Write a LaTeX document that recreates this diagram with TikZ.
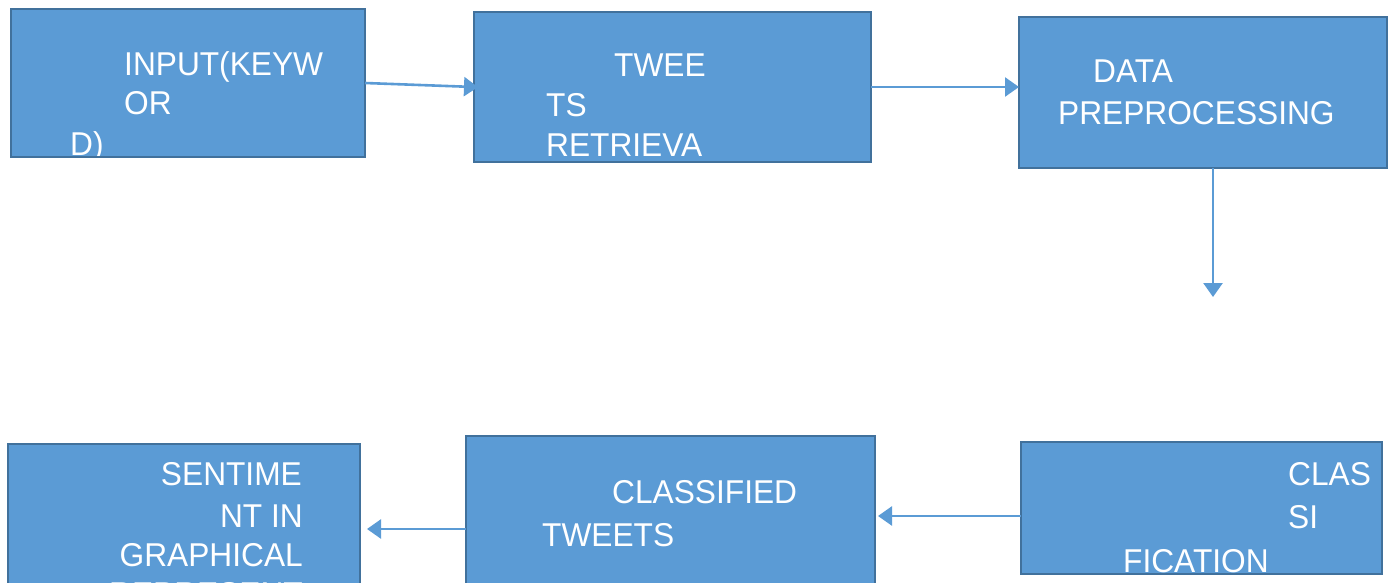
\documentclass[tikz,border=0pt]{standalone}
\usepackage{fontspec}
\setmainfont{Liberation Sans}[FakeStretch=0.96]
\usetikzlibrary{arrows.meta}
\definecolor{boxfill}{HTML}{5B9BD5}
\definecolor{boxline}{HTML}{41719C}
\tikzset{
  box/.style={fill=boxfill, draw=none, inner sep=0pt, outer sep=0pt, anchor=north west},
  edgeline/.style={draw=boxline, line width=2pt},
  lbl/.style={text=white, inner sep=0pt, anchor=base west, font=\fontsize{33}{40}\selectfont},
  lblr/.style={lbl, anchor=base east},
  arr/.style={draw=boxfill, line width=2.6pt, -{Triangle[length=14pt,width=19pt]}}
}
\begin{document}
\begin{tikzpicture}[x=1pt,y=-1pt]
\useasboundingbox (0,0) rectangle (1395,583);
% boxes (fill)
\node[box, minimum width=354pt, minimum height=148pt] (b1) at (11,9) {};
\node[box, minimum width=397pt, minimum height=150pt] (b2) at (474,12) {};
\node[box, minimum width=368pt, minimum height=151pt] (b3) at (1019,17) {};
\node[box, minimum width=352pt, minimum height=170pt] (b4) at (8,444) {};
\node[box, minimum width=409pt, minimum height=170pt] (b5) at (466,436) {};
\node[box, minimum width=361pt, minimum height=132pt] (b6) at (1021,442) {};
% texts
\node[lbl] (t1a) at (124,76) {INPUT(KEYW};
\node[lbl] (t1b) at (124,115) {OR};
\node[lbl] (t1c) at (70,156) {D)};
\node[lbl] (t2a) at (614,77) {TWEE};
\node[lbl] (t2b) at (546,117) {TS};
\node[lbl] (t2c) at (546,157) {RETRIEVA};
\node[lbl] (t3a) at (1093,83) {DATA};
\node[lbl] (t3b) at (1058,125) {PREPROCESSING};
\node[lblr] (t4a) at (302,485) {SENTIME};
\node[lblr] (t4b) at (303,527) {NT IN};
\node[lblr] (t4c) at (303,566) {GRAPHICAL};
\node[lblr] (t4d) at (303,605) {REPRESENT};
\node[lbl] (t5a) at (612,503) {CLASSIFIED};
\node[lbl] (t5b) at (542,546) {TWEETS};
\node[lbl] (t6a) at (1288,485) {CLAS};
\node[lbl] (t6b) at (1288,528) {SI};
\node[lbl] (t6c) at (1123,572) {FICATION};
% borders on top
\foreach \b in {b1,b2,b3,b4,b5,b6}
  \draw[edgeline] (\b.south west) rectangle (\b.north east);
% connectors
\coordinate (c3) at (1213,297);
\coordinate (c5) at (0,529);
\draw[arr, shorten >=-4pt] (b1.east) -- (b2.west);
\draw[arr] (b2.east) -- (b2.east -| b3.west);
\draw[arr] (c3 |- b3.south) -- (c3);
\draw[arr, shorten >=3pt] ([yshift=-8pt]b6.west) -- ([yshift=-8pt]b6.west -| b5.east);
\draw[arr, shorten >=7pt] (b5.west |- c5) -- (b4.east |- c5);
\end{tikzpicture}
\end{document}
